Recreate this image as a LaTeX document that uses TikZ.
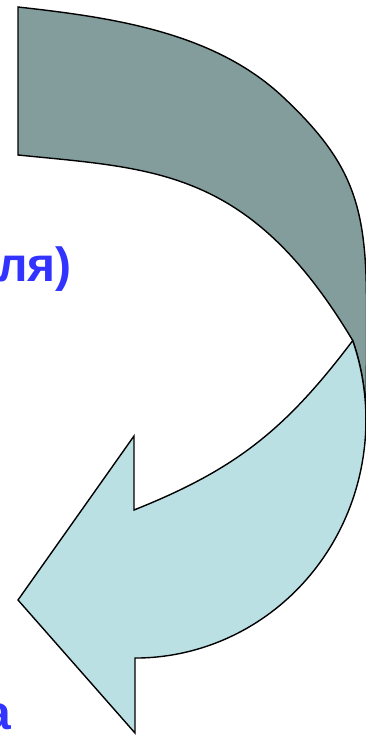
\documentclass[tikz,border=0pt]{standalone}
\usepackage{fontspec}
\setmainfont{Liberation Sans}
\definecolor{darkband}{RGB}{131,157,156}
\definecolor{lightband}{RGB}{187,224,227}
\definecolor{txtblue}{RGB}{51,51,255}
\tikzset{
  bandline/.style={draw=black, line width=1.4pt, line join=miter},
  lbl/.style={inner sep=0pt, text=txtblue, font=\bfseries\fontsize{48}{52}\selectfont}
}
\begin{document}
\begin{tikzpicture}[x=1pt,y=-1pt]
\clip (0,0) rectangle (366,735);
\coordinate (C) at (352.7,340.6);
% dark (back) part of the curved arrow
\path[bandline, fill=darkband]
  (18,7) .. controls (112.4,17.5) and (213.7,31.9) .. (283,97)
  .. controls (352.3,162) and (366,205) .. (366.5,300)
  .. controls (366.5,350) and (366.5,390) .. (366,420)
  arc[start angle=0, end angle=-19.5, x radius=231, y radius=238]
  .. controls (250,169) and (157,169) .. (18,155)
  -- cycle;
% light (front) part with arrow head
\path[bandline, fill=lightband]
  (C) arc[start angle=-19.5, end angle=90, x radius=231, y radius=238]
  -- (135,733) -- (18,600) -- (134,436) -- (134,510)
  .. controls (236.1,469.2) and (285.5,429.6) .. (C)
  -- cycle;
% clipped text fragments
\node[lbl, anchor=base east] (t1) at (72,281) {ля)};
\node[lbl, anchor=base east] (t2) at (11,729) {а};
\end{tikzpicture}
\end{document}
